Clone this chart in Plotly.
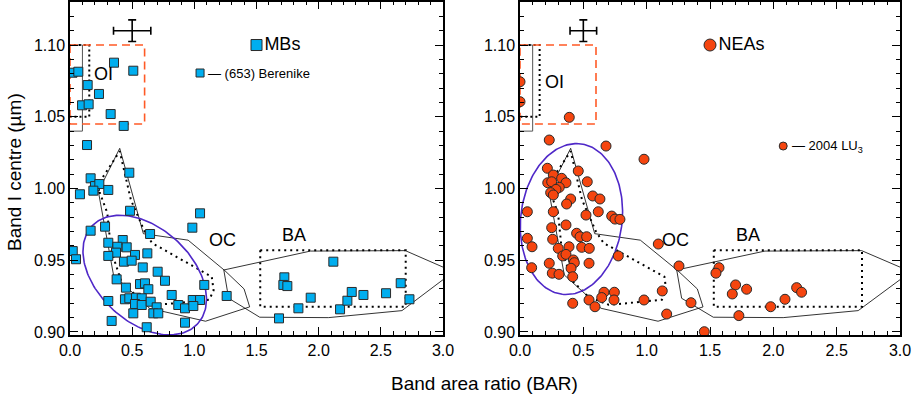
import numpy as np
import plotly.graph_objects as go

# ---- values ----
mb_bar = [0.02, 0.067, 0.354, 0.509, 0.142, 0.233, 0.097, 0.150, 0.327, 0.432, 0.137,
          0.477, 0.166, 0.201, 0.236, 0.188, 0.308, 0.08, 0.483, 1.046, 0.984, 0.282,
          0.166, 0.644, 0.424, 0.308, 0.381, 0.456, 0.022, 0.523, 0.37, 0.308, 0.622,
          0.048, 0.434, 0.496, 0.585, 0.705, 0.375, 0.764, 0.563, 0.603, 0.45, 0.63,
          1.08, 0.818, 1.26, 0.442, 0.477, 0.531, 0.577, 0.523, 0.577, 0.649, 0.697,
          0.871, 0.925, 0.987, 1.046, 0.992, 0.308, 0.67, 0.71, 0.509, 0.335, 0.925,
          0.617, 2.118, 1.724, 1.716, 1.748, 1.936, 1.837, 2.172, 2.231, 2.266, 2.36,
          2.542, 2.66, 2.73, 1.681]
mb_bc = [1.0807, 1.0814, 1.0877, 1.0821, 1.0721, 1.0659, 1.058, 1.0587, 1.0519, 1.0436,
         1.0303, 1.011, 1.0071, 1.0017, 1.0031, 0.9985, 0.999, 0.996, 0.9845, 0.9827,
         0.9727, 0.9734, 0.9706, 0.9683, 0.9641, 0.9622, 0.9594, 0.959, 0.9564, 0.9537,
         0.9553, 0.953, 0.9548, 0.9507, 0.949, 0.9497, 0.945, 0.942, 0.9367, 0.9357,
         0.9334, 0.9339, 0.9309, 0.9298, 0.9328, 0.9258, 0.9251, 0.9228, 0.9235, 0.9239,
         0.9235, 0.9195, 0.9188, 0.9211, 0.9172, 0.9188, 0.9165, 0.9223, 0.9223, 0.9181,
         0.9216, 0.913, 0.913, 0.913, 0.9077, 0.9065, 0.9033, 0.949, 0.9381, 0.9328,
         0.932, 0.9239, 0.9165, 0.9158, 0.9218, 0.9279, 0.9258, 0.927, 0.934, 0.9228,
         0.9095]

nea_bar = [0.0, 0.0, 0.389, 0.231, 0.679, 0.979, 0.216, 0.46, 0.263, 0.329, 0.219, 0.25,
           0.363, 0.531, 0.31, 0.284, 0.242, 0.263, 0.574, 0.631, 0.40, 0.368, 0.058,
           0.263, 0.618, 0.521, 0.724, 0.75, 0.789, 0.363, 0.25, 0.447, 0.474, 0.526,
           0.058, 0.258, 1.092, 0.095, 0.387, 0.487, 0.547, 0.302, 0.337, 0.363, 0.776,
           0.421, 0.429, 0.231, 0.545, 1.255, 0.092, 0.403, 0.255, 0.308, 0.416, 1.123,
           0.663, 0.745, 0.645, 0.742, 0.545, 0.979, 0.416, 0.592, 1.35, 1.158, 1.455,
           1.571, 1.547, 1.702, 1.676, 1.789, 1.728, 1.979, 2.092, 2.184, 2.223]
nea_bc = [1.0744, 1.0605, 1.0496, 1.0338, 1.0296, 1.0204, 1.0141, 1.0122, 1.0094, 1.0071,
          1.004, 1.0047, 1.004, 1.0047, 1.0008, 0.9994, 0.9971, 0.9955, 0.9948, 0.9927,
          0.9927, 0.9892, 0.9838, 0.9838, 0.9838, 0.9815, 0.9808, 0.9787, 0.9785, 0.9746,
          0.9727, 0.9688, 0.9664, 0.9664, 0.9653, 0.9646, 0.9613, 0.9594, 0.9594, 0.959,
          0.9583, 0.9583, 0.953, 0.9541, 0.953, 0.9502, 0.9483, 0.9479, 0.9479, 0.946,
          0.9448, 0.9444, 0.941, 0.9402, 0.9385, 0.9286, 0.9277, 0.9277, 0.924, 0.9223,
          0.9223, 0.9223, 0.92, 0.9176, 0.9204, 0.9125, 0.9002, 0.9448, 0.941, 0.9328,
          0.9265, 0.9298, 0.9114, 0.9176, 0.9228, 0.9309, 0.9277]

berenike = (1.046, 1.0805)
lu3 = (2.078, 1.0296)

# region outlines (BAR, band centre)
oc_solid_x = [0.40, 0.59, 0.95, 1.245, 1.40, 1.445, 1.09, 0.64, 0.35, 0.228, 0.40]
oc_solid_y = [1.028, 0.9685, 0.964, 0.9428, 0.930, 0.9175, 0.9075, 0.9165, 0.9397, 0.998, 1.028]
ba_solid_x = [1.237, 1.934, 2.697, 3.085, 2.67, 2.078, 1.526, 1.276, 1.237]
ba_solid_y = [0.9432, 0.9564, 0.9567, 0.942, 0.9149, 0.910, 0.9103, 0.9235, 0.9432]
oc_dot_x = [0.265, 0.40, 0.49, 0.60, 0.66, 1.14, 1.155, 1.12, 0.84, 0.70, 0.54, 0.41, 0.33, 0.30, 0.24, 0.265]
oc_dot_y = [1.008, 1.026, 0.992, 0.970, 0.962, 0.9385, 0.929, 0.9225, 0.920, 0.919, 0.9245, 0.936, 0.957, 0.983, 0.997, 1.008]
ba_dot_x = [1.53, 2.70, 2.70, 1.53, 1.53]
ba_dot_y = [0.957, 0.957, 0.9176, 0.9176, 0.957]
oi_solid_x = [-0.05, 0.10, 0.10, -0.05]
oi_solid_y = [1.10, 1.10, 1.04, 1.04]
oi_dot_x = [-0.05, 0.155, 0.155, -0.05]
oi_dot_y = [1.10, 1.10, 1.05, 1.05]
oi_dash_x = [0.0, 0.6, 0.6, 0.0, 0.0]
oi_dash_y = [1.10, 1.10, 1.045, 1.045, 1.10]

# error cross (x, y, dx, dy)
err_left = (0.5, 1.11, 0.15, 0.0075)
err_right = (0.5, 1.11, 0.105, 0.0075)

BLUE = '#00AEEF'
RED = '#F5450F'
PURPLE = '#4F28C8'
FONT = 'Liberation Sans'

W, H = 914, 397
X_RANGE = [0.0, 3.0]
Y_RANGE = [0.8979, 1.1302]
DOM_L = [70 / W, 443 / W]
DOM_R = [520 / W, 900 / W]
DOM_Y = [1 - 335 / H, 1 - 1.7 / H]


def ellipse(cx, cy, a_px, b_px, ang_deg, dom):
    # ellipse drawn in pixel space, mapped back to data
    px_x = (dom[1] - dom[0]) * W / (X_RANGE[1] - X_RANGE[0])
    px_y = (DOM_Y[1] - DOM_Y[0]) * H / (Y_RANGE[1] - Y_RANGE[0])
    t = np.linspace(0, 2 * np.pi, 200)
    th = np.radians(ang_deg)
    u = a_px * np.cos(t) * np.cos(th) - b_px * np.sin(t) * np.sin(th)
    v = a_px * np.cos(t) * np.sin(th) + b_px * np.sin(t) * np.cos(th)
    return cx + u / px_x, cy - v / px_y


fig = go.Figure()


def add_panel(xa, ya, dom, pts_x, pts_y, sym, col, size, err, ell):
    line = lambda xs, ys, **kw: fig.add_trace(go.Scatter(
        x=xs, y=ys, mode='lines', xaxis=xa, yaxis=ya, showlegend=False,
        hoverinfo='skip', **kw))
    line(oi_solid_x, oi_solid_y, line=dict(color='#555555', width=1))
    line(oi_dot_x, oi_dot_y, line=dict(color='black', width=2, dash='2px,3px'))
    line(oi_dash_x, oi_dash_y, line=dict(color='#FF5A26', width=1.6, dash='8px,5px'))
    line(oc_solid_x, oc_solid_y, line=dict(color='black', width=0.8))
    line(ba_solid_x, ba_solid_y, line=dict(color='black', width=0.8))
    line(oc_dot_x, oc_dot_y, line=dict(color='black', width=2, dash='2px,4px'))
    line(ba_dot_x, ba_dot_y, line=dict(color='black', width=2, dash='2px,4px'))
    ex, ey = ellipse(*ell, dom)
    line(ex, ey, line=dict(color=PURPLE, width=1.6))
    fig.add_trace(go.Scatter(
        x=pts_x, y=pts_y, mode='markers', xaxis=xa, yaxis=ya, showlegend=False,
        marker=dict(symbol=sym, size=size, color=col, line=dict(color='#2a2a2a', width=1))))
    fig.add_trace(go.Scatter(
        x=[err[0]], y=[err[1]], mode='markers', xaxis=xa, yaxis=ya, showlegend=False,
        marker=dict(size=1, color='rgba(0,0,0,0)'),
        error_x=dict(type='constant', value=err[2], color='black', thickness=1.6, width=4),
        error_y=dict(type='constant', value=err[3], color='black', thickness=1.6, width=4)))


add_panel('x', 'y', DOM_L, mb_bar, mb_bc, 'square', BLUE, 9, err_left,
          (0.601, 0.9397, 72, 47, 42.7))
add_panel('x2', 'y2', DOM_R, nea_bar, nea_bc, 'circle', RED, 10, err_right,
          (0.406, 0.9787, 75.8, 50.7, 96.9))

# labelled objects and legend keys
fig.add_trace(go.Scatter(x=[berenike[0]], y=[berenike[1]], mode='markers', xaxis='x', yaxis='y',
                         showlegend=False,
                         marker=dict(symbol='square', size=8, color=BLUE, line=dict(color='#2a2a2a', width=1))))
fig.add_trace(go.Scatter(x=[lu3[0]], y=[lu3[1]], mode='markers', xaxis='x2', yaxis='y2',
                         showlegend=False,
                         marker=dict(symbol='circle', size=8, color=RED, line=dict(color='#2a2a2a', width=1))))
fig.add_trace(go.Scatter(x=[1.5], y=[1.10], mode='markers+text', xaxis='x', yaxis='y',
                         showlegend=False, text=['MBs'], textposition='middle right',
                         textfont=dict(family=FONT, size=18, color='black'),
                         marker=dict(symbol='square', size=11, color=BLUE, line=dict(color='#2a2a2a', width=1))))
fig.add_trace(go.Scatter(x=[1.5], y=[1.10], mode='markers+text', xaxis='x2', yaxis='y2',
                         showlegend=False, text=['NEAs'], textposition='middle right',
                         textfont=dict(family=FONT, size=18, color='black'),
                         marker=dict(symbol='circle', size=12, color=RED, line=dict(color='#2a2a2a', width=1))))

ann = []
for xr, yr, oi_y in (('x', 'y', 1.0795), ('x2', 'y2', 1.0745)):
    ann += [
        dict(x=0.27, y=oi_y, xref=xr, yref=yr, text='OI', showarrow=False, font=dict(size=18)),
        dict(x=1.23, y=0.964, xref=xr, yref=yr, text='OC', showarrow=False, font=dict(size=18)),
        dict(x=1.80, y=0.9676, xref=xr, yref=yr, text='BA', showarrow=False, font=dict(size=18)),
    ]
ann += [
    dict(x=berenike[0] + 0.05, y=berenike[1], xref='x', yref='y', xanchor='left',
         text='— (653) Berenike', showarrow=False, font=dict(size=13)),
    dict(x=lu3[0] + 0.05, y=lu3[1], xref='x2', yref='y2', xanchor='left',
         text='— 2004 LU<sub>3</sub>', showarrow=False, font=dict(size=13)),
    dict(x=484 / W, y=1 - 383 / H, xref='paper', yref='paper', text='Band area ratio (BAR)',
         xanchor='center', yanchor='middle', showarrow=False, font=dict(size=19)),
    dict(x=14 / W, y=1 - 172 / H, xref='paper', yref='paper', text='Band I centre (µm)',
         xanchor='center', yanchor='middle', textangle=-90, showarrow=False, font=dict(size=19)),
]

ax_common = dict(showline=True, linecolor='black', linewidth=1.5, mirror='ticks',
                 ticks='inside', ticklen=8, tickwidth=1, tickcolor='black',
                 showgrid=False, zeroline=False, automargin=False,
                 tickfont=dict(family=FONT, size=16, color='black'))
xax = dict(ax_common, range=X_RANGE, dtick=0.5, tick0=0, tickformat='.1f',
           minor=dict(dtick=0.1, ticklen=4, ticks='inside', tickcolor='black'))
yax = dict(ax_common, range=Y_RANGE, dtick=0.05, tick0=0.9, tickformat='.2f',
           minor=dict(dtick=0.01, ticklen=4, ticks='inside', tickcolor='black'))

fig.update_layout(
    width=W, height=H,
    margin=dict(l=0, r=0, t=0, b=0),
    paper_bgcolor='white', plot_bgcolor='white',
    font=dict(family=FONT, size=15, color='black'),
    xaxis=dict(xax, domain=DOM_L, anchor='y'),
    yaxis=dict(yax, domain=DOM_Y, anchor='x'),
    xaxis2=dict(xax, domain=DOM_R, anchor='y2'),
    yaxis2=dict(yax, domain=DOM_Y, anchor='x2'),
    annotations=ann,
    showlegend=False,
)

# page body has a default margin; drop it so the figure sits at the top-left
fig.write_html('out.html', config={'displayModeBar': False},
               post_script="document.body.style.margin='0';")
